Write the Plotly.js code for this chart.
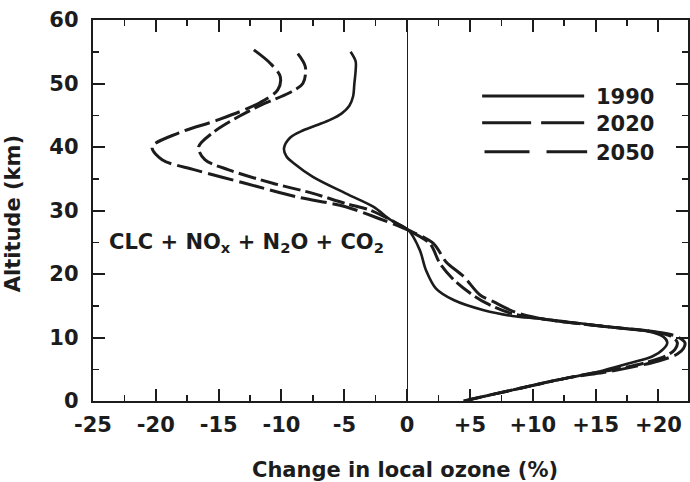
<!DOCTYPE html>
<html>
<head>
<meta charset="utf-8">
<script src="https://cdn.plot.ly/plotly-3.0.1.min.js"></script>
<style>html,body{margin:0;padding:0;background:#fff;}#chart{width:690px;height:482px;}</style>
</head>
<body>
<div id="chart"></div>
<script>
// Altitude (km) and change in local ozone (%) for each year
const alt1990 = [55.0, 53.5, 52.0, 50.0, 48.0, 46.5, 45.3, 44.3, 43.5, 42.6, 41.5, 39.8, 38.5, 37.4, 35.3, 32.7, 30.6, 28.5, 26.9, 23.8, 20.6, 17.7, 15.9, 14.3, 13.3, 12.8, 11.7, 10.9, 10.1, 9.2, 8.2, 7.0, 5.9, 4.6, 3.8, 3.0, 2.0, 1.0, 0.0];
const ozone1990 = [-4.5, -4.1, -4.1, -4.2, -4.3, -4.6, -5.2, -6.1, -7.1, -8.3, -9.3, -9.8, -9.6, -9.0, -7.5, -4.9, -2.7, -1.3, 0.1, 1.0, 1.5, 2.3, 3.7, 6.1, 8.7, 11.4, 15.9, 19.3, 20.4, 20.7, 20.4, 19.5, 17.6, 15.2, 13.2, 11.2, 9.0, 6.7, 4.5];

const alt2020 = [54.7, 52.6, 50.0, 48.5, 46.9, 44.8, 42.2, 40.0, 38.0, 36.4, 34.3, 32.7, 31.1, 30.1, 28.6, 26.9, 24.8, 21.7, 19.1, 17.0, 15.4, 13.8, 12.8, 11.7, 10.9, 10.2, 9.2, 8.1, 7.1, 6.0, 5.0, 4.4, 3.8, 3.0, 2.0, 1.0, 0.0];
const ozone2020 = [-8.7, -8.1, -8.3, -9.4, -11.3, -13.4, -15.5, -16.6, -16.1, -14.2, -10.7, -7.5, -4.9, -3.0, -1.4, 0.1, 1.8, 2.6, 3.7, 5.0, 6.3, 8.3, 11.2, 15.9, 19.6, 21.0, 21.5, 21.3, 20.6, 18.9, 16.6, 14.8, 13.2, 11.2, 9.0, 6.7, 4.5];

const alt2050 = [55.3, 53.2, 51.1, 49.0, 46.9, 44.3, 42.2, 40.0, 38.0, 36.4, 34.3, 32.2, 30.6, 28.7, 26.9, 24.8, 21.9, 19.6, 16.7, 15.6, 14.0, 12.8, 11.7, 10.9, 10.2, 9.2, 8.3, 7.4, 6.3, 5.3, 4.5, 3.8, 3.0, 2.0, 1.0, 0.0];
const ozone2050 = [-12.2, -10.9, -10.1, -10.3, -11.8, -15.0, -18.2, -20.3, -19.5, -16.9, -12.9, -8.9, -4.9, -2.2, 0.1, 2.1, 3.1, 4.5, 5.8, 6.9, 8.6, 11.2, 15.9, 19.7, 21.4, 22.1, 22.0, 21.5, 20.0, 17.8, 15.6, 13.2, 11.2, 9.0, 6.7, 4.5];

const years = ['1990', '2020', '2050'];
const xTickVals = [-25, -20, -15, -10, -5, 0, 5, 10, 15, 20];
const xTickText = ['-25', '-20', '-15', '-10', '-5', '0', '+5', '+10', '+15', '+20'];
const yTickVals = [0, 10, 20, 30, 40, 50, 60];

const ink = '#1c1c1c';
const fontFam = 'DejaVu Sans, Liberation Sans, Arial, sans-serif';

const traces = [
  {x: ozone1990, y: alt1990, name: years[0], mode: 'lines',
   line: {color: ink, width: 2.6, shape: 'spline', smoothing: 0.9}},
  {x: ozone2020, y: alt2020, name: years[1], mode: 'lines',
   line: {color: ink, width: 3, shape: 'spline', smoothing: 0.9, dash: '18px,5px'}},
  {x: ozone2050, y: alt2050, name: years[2], mode: 'lines',
   line: {color: ink, width: 3, shape: 'spline', smoothing: 0.9, dash: '26px,6px'}}
];

const legendRows = [
  {y: 0.8005, x0: 0.654, x1: 0.8255, dash: 'solid', ty: 0.797},
  {y: 0.7304, x0: 0.654, x1: 0.8255, dash: '49px,10px', ty: 0.726},
  {y: 0.6543, x0: 0.658, x1: 0.8305, dash: '45px,17px', ty: 0.652}
];

const shapes = legendRows.map(r => ({
  type: 'line', xref: 'paper', yref: 'paper', x0: r.x0, x1: r.x1, y0: r.y, y1: r.y,
  line: {color: ink, width: 3, dash: r.dash}
}));

const annotations = legendRows.map((r, i) => ({
  xref: 'paper', yref: 'paper', x: 0.842, y: r.ty, xanchor: 'left', yanchor: 'middle',
  text: years[i], showarrow: false,
  font: {family: fontFam, size: 21, color: ink, weight: 'bold'}
}));

annotations.push({
  xref: 'x', yref: 'y', x: -12.75, y: 24.9, xanchor: 'center', yanchor: 'middle',
  text: 'CLC + NO<sub>x</sub> + N<sub>2</sub>O + CO<sub>2</sub>', showarrow: false,
  font: {family: fontFam, size: 21, color: ink, weight: 'bold'}
});
annotations.push({
  xref: 'paper', yref: 'paper', x: 0.525, y: 0, xanchor: 'center', yanchor: 'middle', yshift: -69,
  text: 'Change in local ozone (%)', showarrow: false,
  font: {family: fontFam, size: 21, color: ink, weight: 'bold'}
});
annotations.push({
  xref: 'paper', yref: 'paper', x: 0, y: 0.49, xanchor: 'center', yanchor: 'middle', xshift: -80,
  text: 'Altitude (km)', textangle: -90, showarrow: false,
  font: {family: fontFam, size: 21, color: ink, weight: 'bold'}
});

const layout = {
  width: 690, height: 482,
  margin: {l: 93, r: 2, t: 20, b: 81},
  paper_bgcolor: '#ffffff', plot_bgcolor: '#ffffff',
  showlegend: false,
  font: {family: fontFam, size: 21, color: ink, weight: 'bold'},
  xaxis: {
    range: [-25, 22.35], tickmode: 'array', tickvals: xTickVals, ticktext: xTickText,
    ticks: 'inside', ticklen: 12, tickwidth: 2, tickcolor: ink,
    minor: {tickmode: 'linear', tick0: -25, dtick: 2.5, ticks: 'inside', ticklen: 6, tickwidth: 1.5, tickcolor: ink, showgrid: false},
    showline: true, linecolor: ink, linewidth: 2.2, mirror: 'ticks',
    showgrid: false, zeroline: true, zerolinecolor: ink, zerolinewidth: 1.2,
    ticklabelstandoff: 4,
    tickfont: {family: fontFam, size: 21, color: ink, weight: 'bold'}
  },
  yaxis: {
    range: [0, 60], tickmode: 'array', tickvals: yTickVals,
    ticks: 'inside', ticklen: 12, tickwidth: 2, tickcolor: ink,
    minor: {tickmode: 'linear', tick0: 0, dtick: 5, ticks: 'inside', ticklen: 6, tickwidth: 1.5, tickcolor: ink, showgrid: false},
    showline: true, linecolor: ink, linewidth: 2.2, mirror: 'ticks',
    showgrid: false, zeroline: false,
    ticklabelstandoff: 8,
    tickfont: {family: fontFam, size: 21, color: ink, weight: 'bold'}
  },
  shapes: shapes,
  annotations: annotations
};

Plotly.newPlot('chart', traces, layout, {staticPlot: true, displayModeBar: false});
</script>
</body>
</html>
